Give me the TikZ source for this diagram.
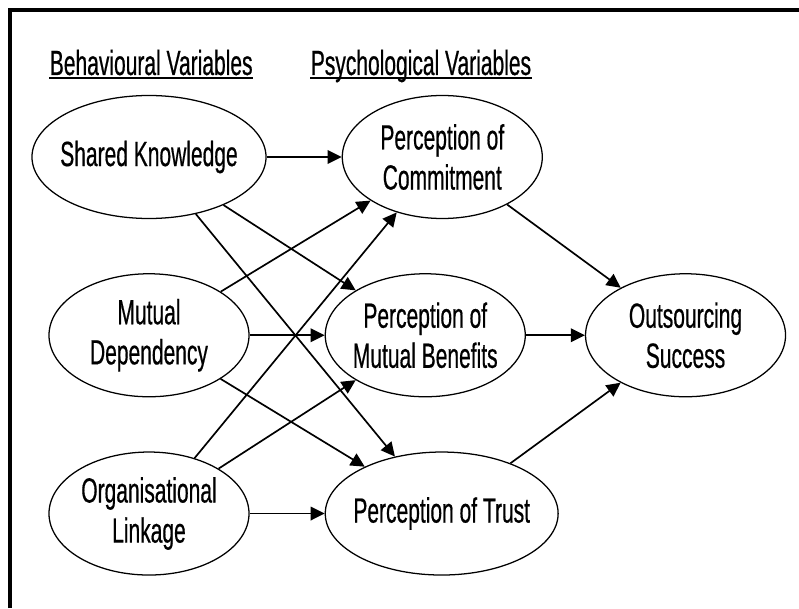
\documentclass[tikz,border=0pt]{standalone}
\usepackage{fontspec}
\setmainfont{Liberation Sans}[FakeStretch=0.6, FakeBold=0.5]
\usetikzlibrary{arrows.meta,positioning,shapes.geometric}

\begin{document}
\begin{tikzpicture}[-{Triangle[length=0.35cm,width=0.34cm]}, line width=1.2pt,
  every node/.style={align=center, font=\fontsize{24.9}{28.5}\selectfont},
  varnode/.style={draw, ellipse, line width=0.9pt, minimum width=5cm, minimum height=3.075cm, inner xsep=-1.5mm, inner ysep=0pt}]

\useasboundingbox (0,0) rectangle (19.975,15.2);

% Frame
\draw[-, line width=0.1cm] (0.25,0) -- (0.25,14.94) -- (19.975,14.94);

% Column headings
\node (hBeh) [anchor=base west, inner sep=0pt] at (1.225,13.325) {Behavioural Variables};
\node (hPsy) [anchor=base west, inner sep=0pt] at (7.75,13.325) {Psychological Variables};
\draw[-, line width=1pt] ([yshift=-0.075cm]hBeh.base west) -- ([yshift=-0.075cm]hBeh.base east);
\draw[-, line width=1pt] ([yshift=-0.075cm]hPsy.base west) -- ([yshift=-0.075cm]hPsy.base east);

% Behavioural variables
\node (SK) [varnode] at (3.725,11.275) {Shared Knowledge};
\node (MD) [varnode, below=1.35cm of SK] {Mutual\\Dependency};
\node (OL) [varnode, below=1.35cm of MD] {Organisational\\Linkage};

% Psychological variables
\node (PC) [varnode, right=1.875cm of SK] {Perception of\\Commitment};
\node (PMB) [varnode, right=1.875cm of MD] {Perception of\\Mutual Benefits};
\node (PT) [varnode, right=1.875cm of OL] {Perception of Trust};

% Outcome
\node (OS) [varnode, right=1.475cm of PMB] {Outsourcing\\Success};

% Behavioural -> psychological
\draw (SK) -- (PC);
\draw (SK) -- (PMB);
\draw (SK) -- (PT);
\draw (MD) -- (PC);
\draw (MD) -- (PMB);
\draw (MD) -- (PT);
\draw (OL) -- (PC);
\draw (OL) -- (PMB);
\draw (OL) -- (PT);

% Psychological -> outcome
\draw (PC) -- (OS);
\draw (PMB) -- (OS);
\draw (PT) -- (OS);

\end{tikzpicture}
\end{document}
